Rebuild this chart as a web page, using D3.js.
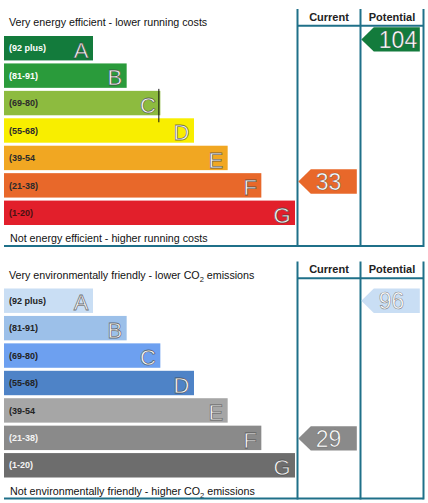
<!DOCTYPE html>
<html><head><meta charset="utf-8">
<script src="https://cdn.jsdelivr.net/npm/d3@7"></script>
<style>
body{margin:0;background:#fff;}
svg{display:block;font-family:Arial,"Liberation Sans",sans-serif;}
</style>
</head><body>
<svg id="chart" width="428" height="503"></svg>
<script>
// ---------- data ----------
const bands = ["A","B","C","D","E","F","G"];
const rangeLabels = ["(92 plus)","(81-91)","(69-80)","(55-68)","(39-54","(21-38)","(1-20)"];
const bandMin = [92,81,69,55,39,21,1];
const bandMax = [100,91,80,68,54,38,20];
const columns = ["Current","Potential"];

const energyValues = {Current: 33, Potential: 104};
const envValues = {Current: 29, Potential: 96};

const energyColors = ["#137b3c","#2a9b3b","#8dbb3f","#f8ee00","#f1a722","#e8682a","#e21f2b"];
const energyLabelColors = ["#ffffff","#ffffff","#2b2b2b","#2b2b2b","#2b2b2b","#2b2b2b","#4a1212"];
const envColors = ["#c9def4","#9cc0e9","#6da0f0","#4e83c7","#a6a6a6","#8a8a8a","#6d6d6d"];
const envLabelColors = ["#222222","#222222","#222222","#222222","#222222","#f4f4f4","#f4f4f4"];

const energyTop = "Very energy efficient - lower running costs";
const energyBottom = "Not energy efficient - higher running costs";
const envTop = ["Very environmentally friendly - lower CO","2"," emissions"];
const envBottom = ["Not environmentally friendly - higher CO","2"," emissions"];

// ---------- layout ----------
const svg = d3.select("#chart");
const frameColor = "#1f7089";

const y = d3.scaleBand().domain(bands).range([36, 225]).paddingInner(0.11).paddingOuter(0);
const xEnd = d3.scaleLinear().domain([0, 6]).range([93, 295]);
const barStart = 4;
const col = d3.scaleBand().domain(columns).range([297.5, 423.5]);
const within = d3.scaleLinear().domain([0, 1]).range([0, -1.1]);

function bandOf(v){
  const i = bandMin.findIndex(m => v >= m);
  return i < 0 ? bands.length - 1 : i;
}

function addText(g, parts, x, yy){
  const t = g.append("text").attr("x", x).attr("y", yy)
    .attr("font-size", 10.7).attr("fill", "#111");
  if (typeof parts === "string") { t.text(parts); return; }
  t.append("tspan").text(parts[0]);
  t.append("tspan").attr("font-size", 7.5).attr("dy", 3).text(parts[1]);
  t.append("tspan").attr("dy", -3).text(parts[2]);
}

function panel(oy, cfg){
  const g = svg.append("g").attr("transform", `translate(0,${oy})`);

  addText(g, cfg.top, 9, 26);
  addText(g, cfg.bottom, 10, 242);

  // bars
  const rows = g.selectAll("g.row").data(bands).join("g").attr("class","row");
  rows.append("rect")
    .attr("x", barStart).attr("y", d => y(d))
    .attr("width", (d,i) => xEnd(i) - barStart).attr("height", y.bandwidth())
    .attr("fill", (d,i) => cfg.colors[i]);
  rows.append("text")
    .attr("x", barStart + 5).attr("y", d => y(d) + y.bandwidth()/2)
    .attr("dy", "0.35em").attr("font-size", 9).attr("font-weight", "bold")
    .attr("fill", (d,i) => cfg.labelColors[i])
    .text((d,i) => rangeLabels[i]);
  rows.append("text")
    .attr("x", (d,i) => xEnd(i) - 4.5).attr("y", d => y(d) + y.bandwidth() - 2.5)
    .attr("text-anchor", "end").attr("font-size", 22)
    .attr("fill", "#ffffff").attr("stroke", "rgba(60,60,60,0.7)").attr("stroke-width", 0.8)
    .text(d => d);

  if (cfg.marker){
    const i = bands.indexOf(cfg.marker);
    g.append("line")
      .attr("x1", xEnd(i) - 1.5).attr("x2", xEnd(i) - 1.5)
      .attr("y1", y(cfg.marker) - 2).attr("y2", y(cfg.marker) + y.bandwidth() + 7)
      .attr("stroke", "#111").attr("stroke-width", 1);
  }

  // frame
  const xs = [col.range()[0], col("Potential"), col.range()[1]];
  g.selectAll("line.v").data(xs).join("line").attr("class","v")
    .attr("x1", d => d).attr("x2", d => d).attr("y1", 9).attr("y2", 247)
    .attr("stroke", frameColor).attr("stroke-width", 2);
  g.append("line").attr("x1", xs[0]).attr("x2", xs[2]).attr("y1", 25.7).attr("y2", 25.7)
    .attr("stroke", frameColor).attr("stroke-width", 2);
  g.append("line").attr("x1", barStart).attr("x2", xs[2]).attr("y1", 246).attr("y2", 246)
    .attr("stroke", frameColor).attr("stroke-width", 2);
  g.selectAll("text.hdr").data(columns).join("text").attr("class","hdr")
    .attr("x", d => col(d) + col.bandwidth()/2).attr("y", 20.7)
    .attr("text-anchor", "middle").attr("font-size", 11).attr("font-weight", "bold")
    .attr("fill", "#222").text(d => d);

  // arrows
  columns.forEach(c => {
    const v = cfg.values[c];
    const i = bandOf(v);
    const mid = (bandMin[i] + bandMax[i]) / 2;
    const cy = y(bands[i]) + y.bandwidth()/2 + within(v - mid);
    const h = y.bandwidth();
    const x0 = col(c) + 0.8, x1 = col(c) + 59.3, tip = 12.5;
    const pts = [[x0, cy], [x0 + tip, cy - h/2], [x1, cy - h/2], [x1, cy + h/2], [x0 + tip, cy + h/2]];
    g.append("path").attr("d", d3.line()(pts) + "Z").attr("fill", cfg.colors[i]);
    g.append("text").attr("x", x0 + 17.5).attr("y", cy).attr("dy", "0.36em")
      .attr("font-size", 23).attr("fill", "#fff")
      .attr("stroke", "rgba(60,60,60,0.6)").attr("stroke-width", 0.6)
      .text(v);
  });
}

panel(0, {top: energyTop, bottom: energyBottom, colors: energyColors, labelColors: energyLabelColors, values: energyValues, marker: "C"});
panel(252.5, {top: envTop, bottom: envBottom, colors: envColors, labelColors: envLabelColors, values: envValues});
</script>
</body></html>
